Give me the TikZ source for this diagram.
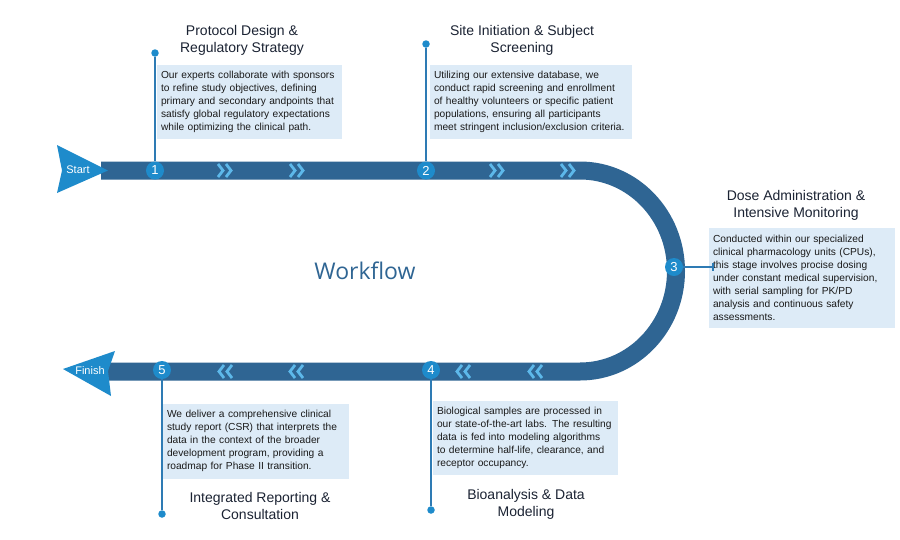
\documentclass[tikz,border=0pt]{standalone}
\usepackage{fontspec}
\setmainfont{Liberation Sans}
\newfontfamily\wffont{Open Sans}
\definecolor{band}{HTML}{2F6593}
\definecolor{accent}{HTML}{1E8BCB}
\definecolor{chev}{HTML}{5DB8EA}
\definecolor{boxfill}{HTML}{DDEBF7}
\definecolor{titlec}{HTML}{1B2333}
\definecolor{bodyc}{HTML}{1A1A1A}
\definecolor{stemc}{HTML}{2E7BB4}
\begin{document}
\begin{tikzpicture}[x=1pt,y=-1pt,
 infobox/.style={fill=boxfill, inner xsep=4pt, inner ysep=0pt, align=left, font=\fontsize{10.2}{13}\selectfont, text=bodyc},
 ttl/.style={align=center, font=\fontsize{14}{17}\selectfont, text=titlec},
 numc/.style={circle, fill=accent, minimum size=18pt, inner sep=0pt, text=white, font=\fontsize{13}{13}\selectfont},
 dotn/.style={circle, fill=accent, minimum size=7.5pt, inner sep=0pt},
 stem/.style={draw=stemc, line width=1.3pt},
 chv/.style={draw=chev, line width=2.8pt, line cap=butt, line join=miter},
 endlbl/.style={text=white, font=\fontsize{11}{11}\selectfont, inner sep=0pt}
]
\useasboundingbox[fill=white] (0,0) rectangle (900,539);

% main band
\draw[band, line width=18pt] (101,170.5) -- (580,170.5)
  arc[start angle=-90, end angle=90, x radius=96, y radius=100.5] -- (108,371.5);

% chevrons
\foreach \x in {225,297,497,568}{
  \draw[chv] (\x-7,164) -- (\x-2,170.5) -- (\x-7,177);
  \draw[chv] (\x+1,164) -- (\x+6,170.5) -- (\x+1,177);
}
\foreach \x in {225,296,463,535}{
  \draw[chv] (\x+7,365) -- (\x+2,371.5) -- (\x+7,378);
  \draw[chv] (\x-1,365) -- (\x-6,371.5) -- (\x-1,378);
}

% start / finish arrows
\fill[accent] (57,145) -- (108,170.5) -- (57,193) -- (62,170.5) -- cycle;
\node[endlbl] (start) at (78,169.5) {Start};
\fill[accent] (63,369) -- (115,351) -- (108,371) -- (111,396) -- cycle;
\node[endlbl] (finish) at (90,370.5) {Finish};

% workflow label
\node[text=band, font=\wffont\fontsize{23}{23}\selectfont] (wf) at (365,271) {Workflow};

% titles
\node[ttl] (t1) at (242,40) {Protocol Design \&\\Regulatory Strategy};
\node[ttl] (t2) at (522,40) {Site Initiation \& Subject\\Screening};
\node[ttl] (t3) at (796,205) {Dose Administration \&\\Intensive Monitoring};
\node[ttl] (t4) at (526,504) {Bioanalysis \& Data\\Modeling};
\node[ttl] (t5) at (260,506) {Integrated Reporting \&\\Consultation};

% boxes
\node[infobox, minimum width=185pt, minimum height=74pt, text width=177pt] (b1) at (249.5,102)
 {Our experts collaborate with sponsors\\to refine study objectives, defining\\primary and secondary andpoints that\\satisfy global regulatory expectations\\while optimizing the clinical path.};
\node[infobox, minimum width=202pt, minimum height=74pt, text width=194pt] (b2) at (531,102)
 {Utilizing our extensive database, we\\conduct rapid screening and enrollment\\of healthy volunteers or specific patient\\populations, ensuring all participants\\meet stringent inclusion/exclusion criteria.};
\node[infobox, minimum width=186pt, minimum height=100pt, text width=178pt] (b3) at (802,277.5)
 {Conducted within our specialized\\clinical pharmacology units (CPUs),\\this stage involves procise dosing\\under constant medical supervision,\\with serial sampling for PK/PD\\analysis and continuous safety\\assessments.};
\node[infobox, minimum width=185pt, minimum height=74pt, text width=177pt] (b4) at (525.5,438)
 {Biological samples are processed in\\our state-of-the-art labs. The resulting\\data is fed into modeling algorithms\\to determine half-life, clearance, and\\receptor occupancy.};
\node[infobox, minimum width=186pt, minimum height=75pt, text width=178pt] (b5) at (256,441)
 {We deliver a comprehensive clinical\\study report (CSR) that interprets the\\data in the context of the broader\\development program, providing a\\roadmap for Phase II transition.};

% number circles and dots
\node[numc] (n1) at (155,170.5) {1};
\node[numc] (n2) at (426,170.5) {2};
\node[numc] (n3) at (674,267) {3};
\node[numc] (n4) at (431,370) {4};
\node[numc] (n5) at (162,370) {5};
\node[dotn] (d1) at (155,53) {};
\node[dotn] (d2) at (426,44) {};
\node[dotn] (d4) at (431,510) {};
\node[dotn] (d5) at (162,514) {};
\coordinate (k3) at (713,267);

\draw[stem] (d1) -- (n1);
\draw[stem] (d2) -- (n2);
\draw[stem] (d4) -- (n4);
\draw[stem] (d5) -- (n5);
\draw[stem] (n3) -- (k3) ++(0,-4) -- ++(0,8);
\end{tikzpicture}
\end{document}
